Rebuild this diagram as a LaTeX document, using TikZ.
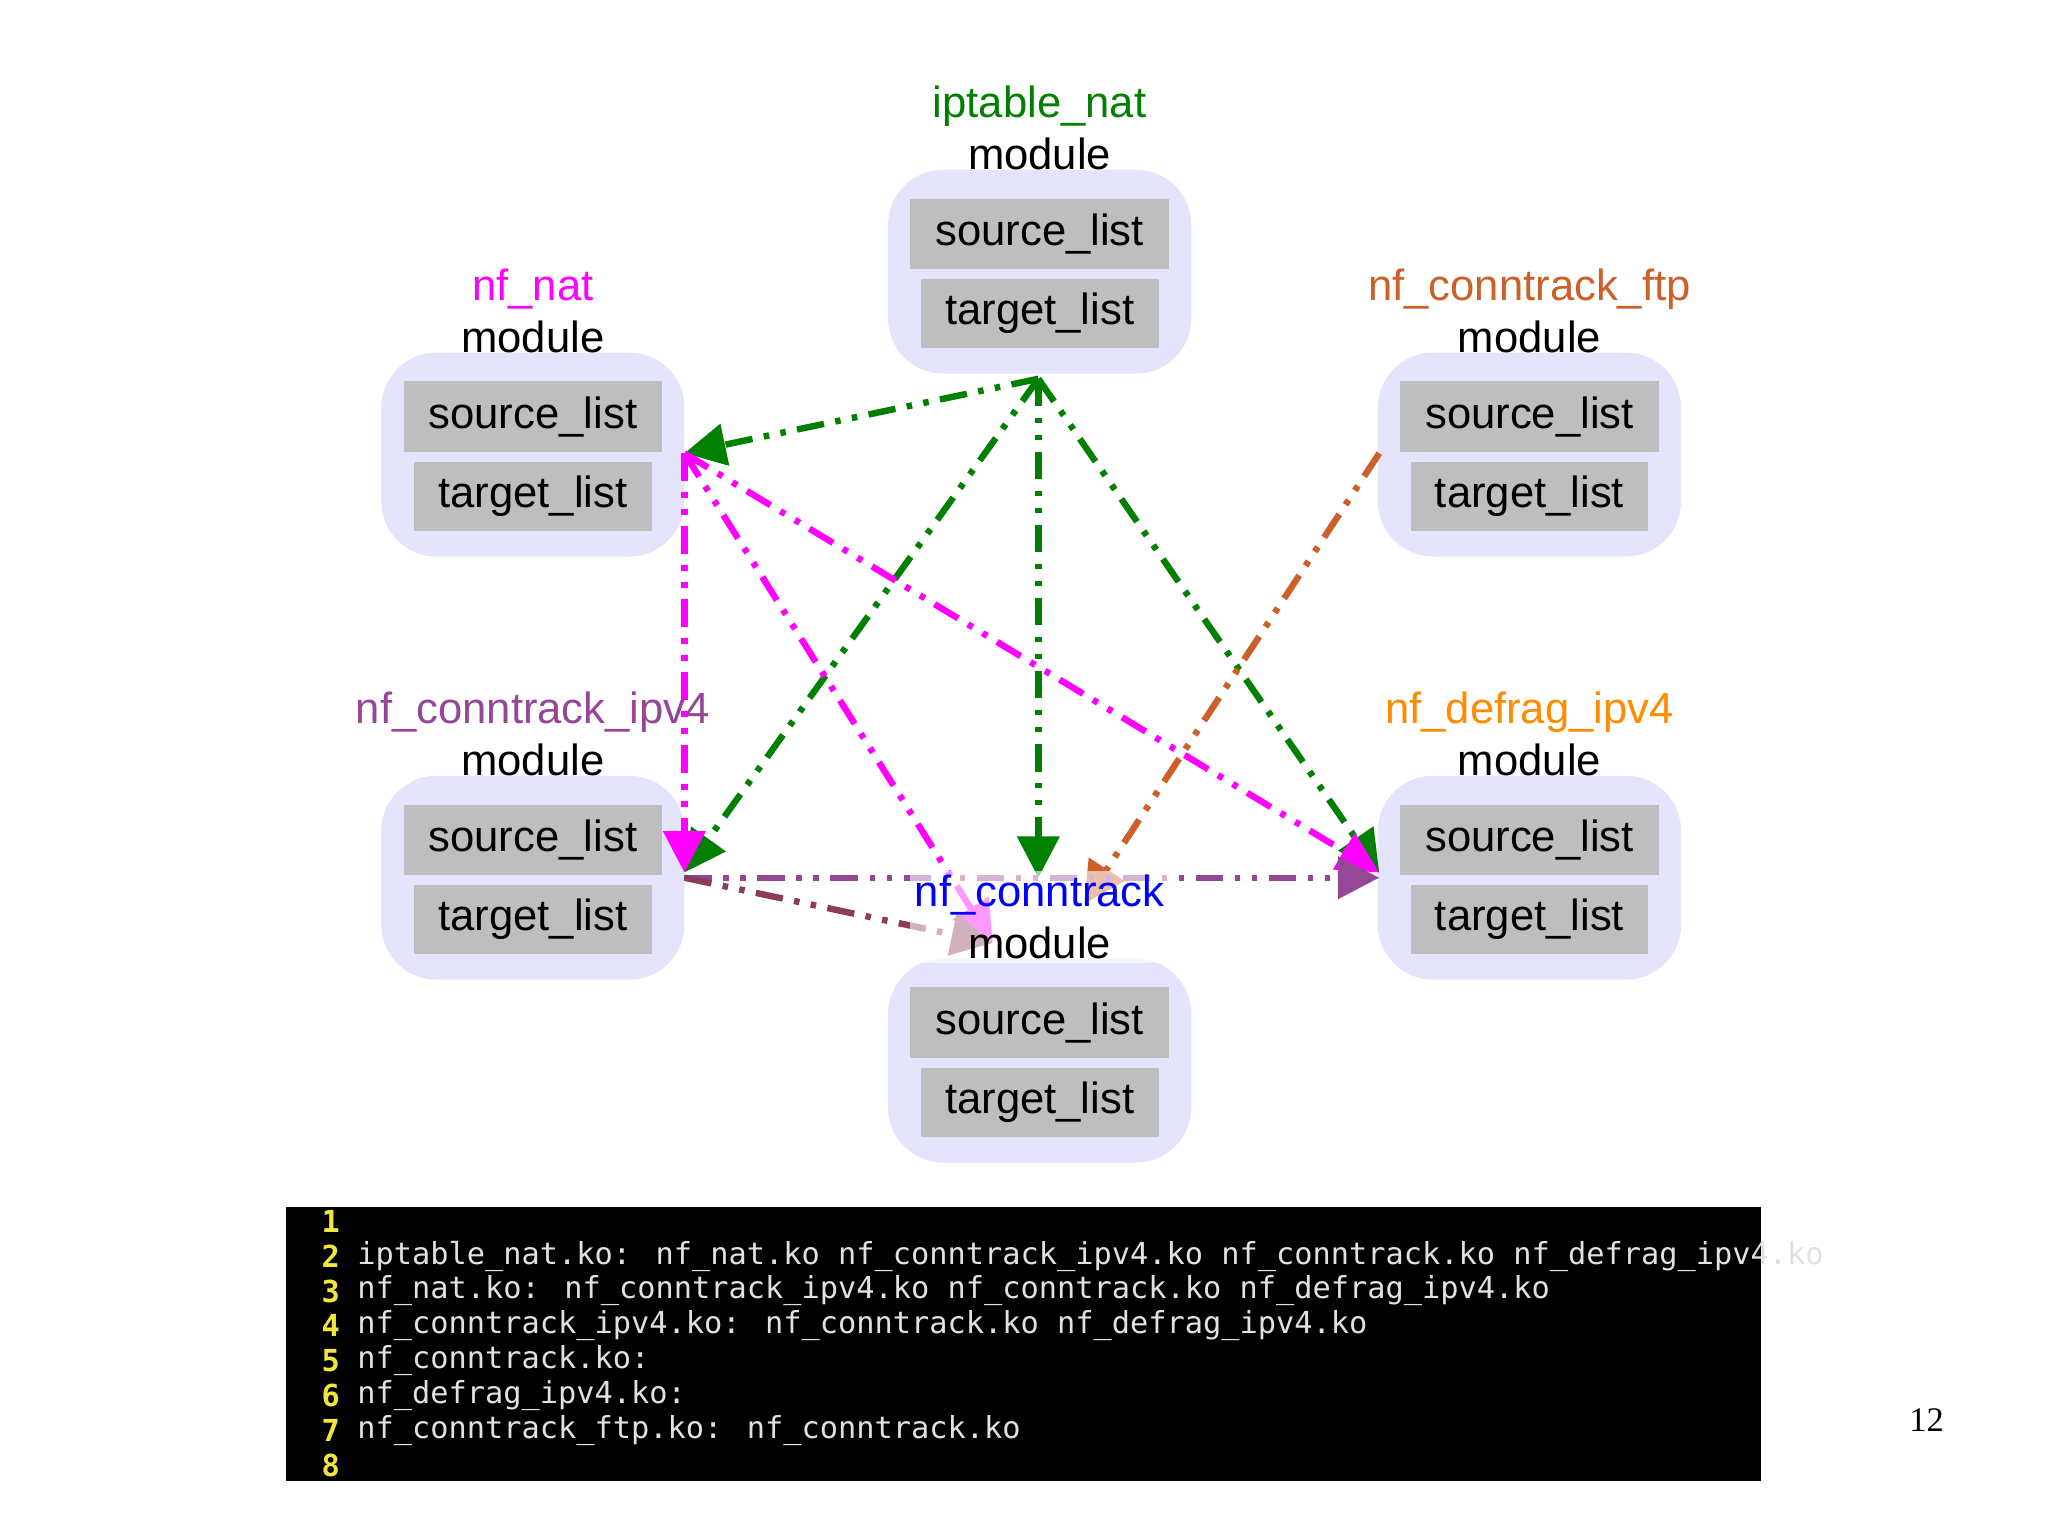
\documentclass[tikz,border=0pt]{standalone}
\usepackage{fontspec}
\setmainfont{Liberation Sans}
\newfontfamily\codefont{DejaVu Sans Mono}
\newfontfamily\numfont{Liberation Serif}
\usetikzlibrary{arrows.meta}
\definecolor{lav}{RGB}{228,228,252}
\definecolor{gbox}{RGB}{190,190,190}
\definecolor{ggreen}{RGB}{0,128,0}
\definecolor{gmag}{RGB}{255,0,255}
\definecolor{gpurp}{RGB}{150,70,150}
\definecolor{gbrown}{RGB}{205,95,40}
\definecolor{gorange}{RGB}{255,140,0}
\definecolor{gbrown2}{RGB}{140,60,90}
\definecolor{codegray}{RGB}{225,225,225}
\definecolor{codeyel}{RGB}{240,230,60}
\tikzset{
  modbox/.style={fill=lav,rounded corners=12pt,minimum width=2.32cm,minimum height=1.56cm,inner sep=0},
  srcbox/.style={fill=gbox,minimum width=1.98cm,minimum height=0.54cm,inner sep=0,font=\fontsize{9.5}{10}\selectfont},
  tgtbox/.style={fill=gbox,minimum width=1.82cm,minimum height=0.53cm,inner sep=0,font=\fontsize{9.5}{10}\selectfont},
  lbl/.style={align=center,font=\fontsize{9.5}{11.2}\selectfont},
  dep/.style={line width=1.4pt,dash pattern=on 6pt off 2.5pt on 1.2pt off 2.5pt on 1.2pt off 2.5pt,-{Triangle[length=9pt,width=9pt]}},
  codeln/.style={anchor=west,font=\codefont\fontsize{6.6}{7}\selectfont,text=codegray,inner sep=0},
  numln/.style={anchor=east,font=\codefont\bfseries\fontsize{6.6}{7}\selectfont,text=codeyel,inner sep=0}
}
\begin{document}
\begin{tikzpicture}[x=0.01cm,y=-0.01cm]
\useasboundingbox (0,0) rectangle (1568,1175);
\fill[white] (0,0) rectangle (1568,1175);
% modules
\foreach \n/\x/\y in {ipt/796/208, nat/408/348, ftp/1171/348, ipv4/408/672, defrag/1171/672, ct/796/812}{
  \node[modbox] (\n) at (\x,\y) {};
  \node[srcbox] (\n s) at (\x,\y-29) {source\_list};
  \node[tgtbox] (\n t) at (\x,\y+32) {target\_list};
}
\node[lbl] (iptl) at (796,98) {\textcolor{ggreen}{iptable\_nat}\\module};
\node[lbl] (natl) at (408,238) {\textcolor{gmag}{nf\_nat}\\module};
\node[lbl] (ftpl) at (1171,238) {\textcolor{gbrown}{nf\_conntrack\_ftp}\\module};
\node[lbl] (ipv4l) at (408,562) {\textcolor{gpurp}{nf\_conntrack\_ipv4}\\module};
\node[lbl] (defl) at (1171,562) {\textcolor{gorange}{nf\_defrag\_ipv4}\\module};
% anchors
\coordinate (a1) at (795,290);
\coordinate (b1) at (524,347);
\coordinate (c1) at (524,668);
\coordinate (d1) at (1056,668);
\coordinate (e1) at (795,672);
\coordinate (f1) at (1056,347);
\coordinate (g1) at (760,722);
\coordinate (h1) at (830,692);
\draw[dep,ggreen] (a1) -- (b1);
\draw[dep,ggreen] (a1) -- (c1);
\draw[dep,ggreen] (a1) -- (e1);
\draw[dep,ggreen] (a1) -- (d1);
\draw[dep,gmag] (b1) -- (c1);
\draw[dep,gmag] (b1) -- (g1);
\draw[dep,gmag] (b1) -- (d1);
\draw[dep,gbrown] (f1) -- (h1);
\draw[dep,gpurp] (524,672) -- (1056,672);
\draw[dep,gbrown2] (524,672) -- (g1);
\node[lbl,fill=white,fill opacity=0.6,text opacity=1,inner sep=1pt] (ctl) at (796,702) {\textcolor{blue}{nf\_conntrack}\\module};
% code panel
\fill[black] (219,924) rectangle (1348,1134);
\foreach \i/\t in {1/,2/iptable\_nat.ko: nf\_nat.ko nf\_conntrack\_ipv4.ko nf\_conntrack.ko nf\_defrag\_ipv4.ko,3/nf\_nat.ko: nf\_conntrack\_ipv4.ko nf\_conntrack.ko nf\_defrag\_ipv4.ko,4/nf\_conntrack\_ipv4.ko: nf\_conntrack.ko nf\_defrag\_ipv4.ko,5/nf\_conntrack.ko:,6/nf\_defrag\_ipv4.ko:,7/nf\_conntrack\_ftp.ko: nf\_conntrack.ko,8/}{
  \node[numln] (n\i) at (261,935+26.7*\i-26.7) {\i};
  \node[codeln] (l\i) at (273,935+26.7*\i-26.7) {\t};
}
\node[font=\numfont\fontsize{7.5}{8}\selectfont] (pg) at (1475,1087) {12};
\end{tikzpicture}
\end{document}
